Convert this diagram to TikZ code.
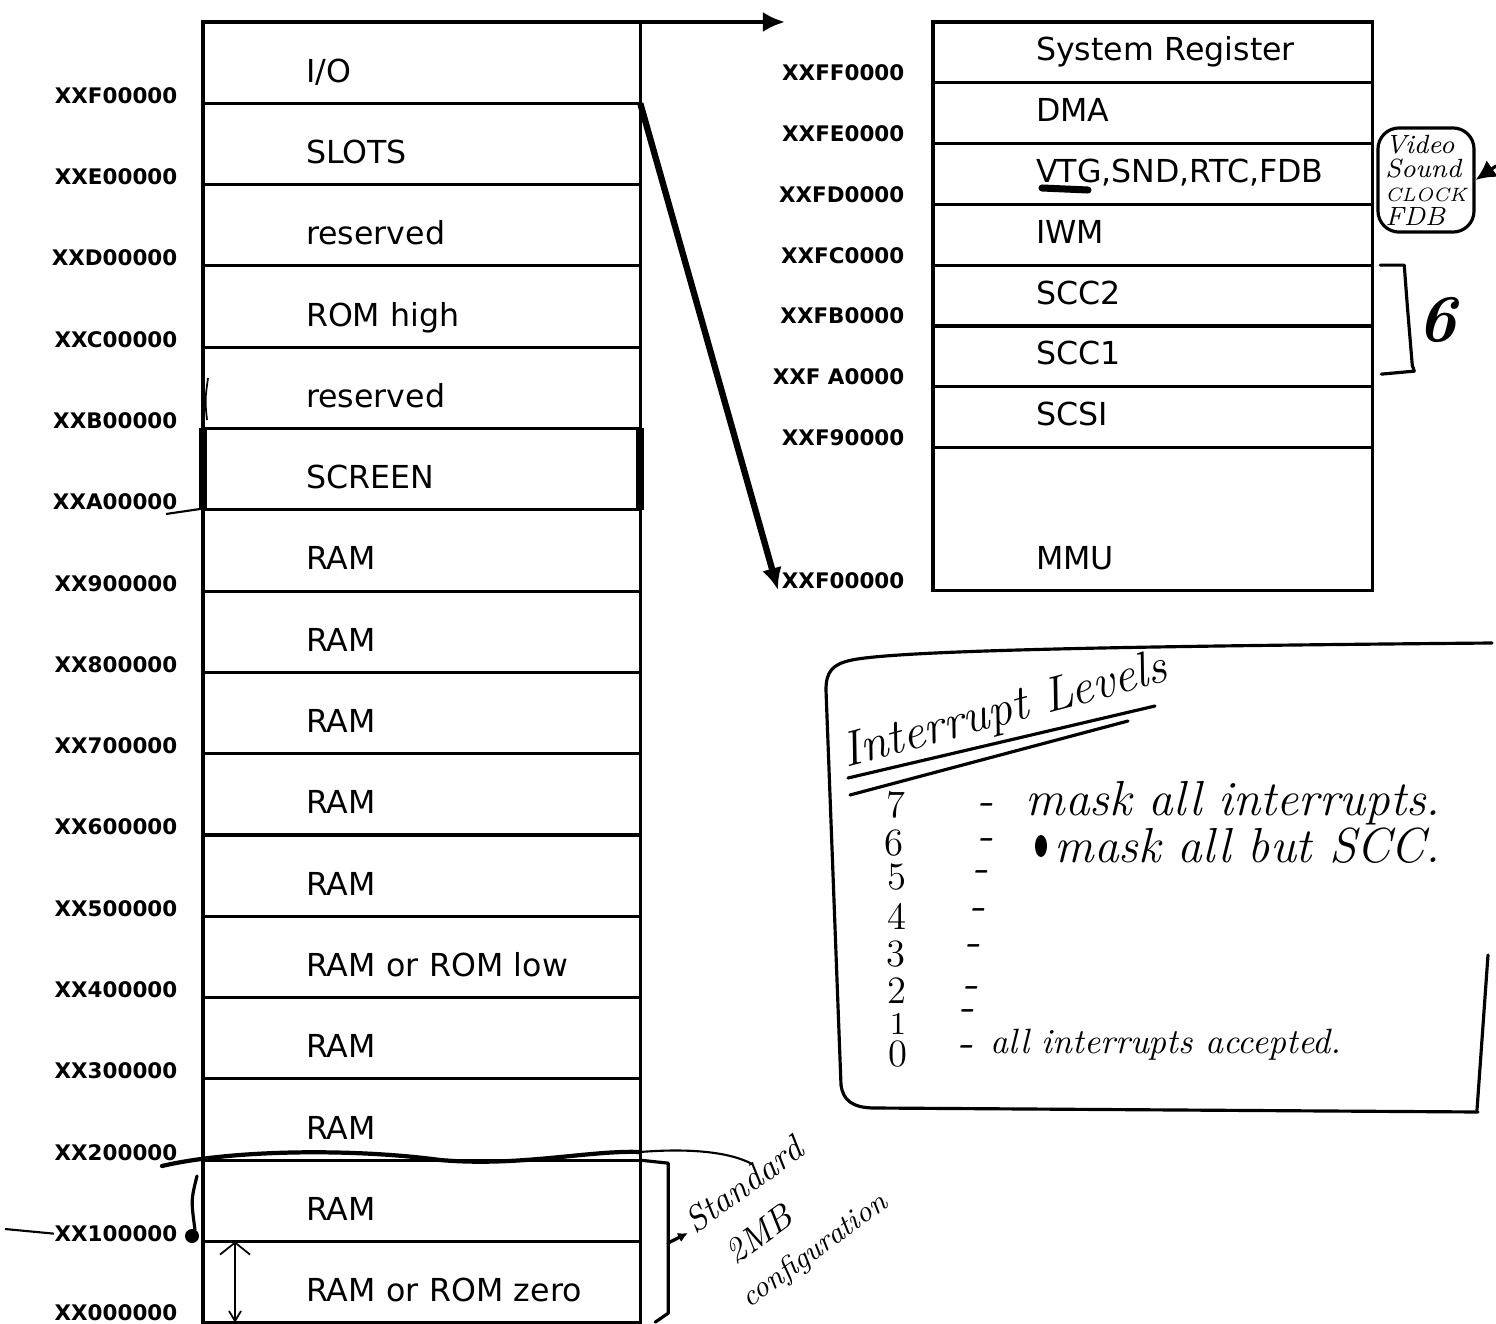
\documentclass[tikz,border=0pt]{standalone}
\usepackage{fontspec}
\newfontfamily\typefont{DejaVu Sans}
\usetikzlibrary{arrows.meta,positioning,calc}

\begin{document}
\begin{tikzpicture}[x=0.01cm,y=-0.01cm,
  cell/.style={rectangle,draw,line width=0.9pt,outer sep=0pt,inner xsep=0pt,
               align=left,text depth=0pt,
               font=\typefont\fontsize{9}{11}\selectfont,
               execute at begin node=\hspace*{1.03cm}},
  lcell/.style={cell,text width=4.37cm,minimum height=0.8125cm,text height=0.39cm},
  rcell/.style={cell,text width=4.39cm,minimum height=0.6075cm,text height=0.17cm},
  adresse/.style={anchor=base east,inner sep=0pt,
                  font=\typefont\bfseries\fontsize{6.1}{7}\selectfont},
  main/.style={inner sep=0pt,font=\itshape\fontsize{14}{16}\selectfont},
  chiffre/.style={inner sep=0pt,font=\fontsize{11}{12}\selectfont},
  trait/.style={line width=0.9pt,line cap=round,line join=round},
  fleche/.style={-{Latex[length=0.22cm,width=0.2cm]},line width=1.2pt}]

  \useasboundingbox (0,0) rectangle (1496,1324);

  % --- main memory map
  \node[lcell,anchor=north west] (io) at (203,22) {I/O};
  \node[lcell,below=0pt of io] (slots) {SLOTS};
  \node[lcell,below=0pt of slots] (resA) {reserved};
  \node[lcell,below=0pt of resA] (romhi) {ROM high};
  \node[lcell,below=0pt of romhi] (resB) {reserved};
  \node[lcell,below=0pt of resB] (screen) {SCREEN};
  \node[lcell,below=0pt of screen] (ram9) {RAM};
  \node[lcell,below=0pt of ram9] (ram8) {RAM};
  \node[lcell,below=0pt of ram8] (ram7) {RAM};
  \node[lcell,below=0pt of ram7] (ram6) {RAM};
  \node[lcell,below=0pt of ram6] (ram5) {RAM};
  \node[lcell,below=0pt of ram5] (romlo) {RAM or ROM low};
  \node[lcell,below=0pt of romlo] (ram3) {RAM};
  \node[lcell,below=0pt of ram3] (ram2) {RAM};
  \node[lcell,below=0pt of ram2] (ram1) {RAM};
  \node[lcell,below=0pt of ram1] (romzero) {RAM or ROM zero};

  \node[adresse] (aF) at ([xshift=-0.25cm]io.south west) {XXF00000};
  \node[adresse] (aE) at ([xshift=-0.25cm]slots.south west) {XXE00000};
  \node[adresse] (aD) at ([xshift=-0.25cm]resA.south west) {XXD00000};
  \node[adresse] (aC) at ([xshift=-0.25cm]romhi.south west) {XXC00000};
  \node[adresse] (aB) at ([xshift=-0.25cm]resB.south west) {XXB00000};
  \node[adresse] (aA) at ([xshift=-0.25cm]screen.south west) {XXA00000};
  \node[adresse] (a9) at ([xshift=-0.25cm]ram9.south west) {XX900000};
  \node[adresse] (a8) at ([xshift=-0.25cm]ram8.south west) {XX800000};
  \node[adresse] (a7) at ([xshift=-0.25cm]ram7.south west) {XX700000};
  \node[adresse] (a6) at ([xshift=-0.25cm]ram6.south west) {XX600000};
  \node[adresse] (a5) at ([xshift=-0.25cm]ram5.south west) {XX500000};
  \node[adresse] (a4) at ([xshift=-0.25cm]romlo.south west) {XX400000};
  \node[adresse] (a3) at ([xshift=-0.25cm]ram3.south west) {XX300000};
  \node[adresse] (a2) at ([xshift=-0.25cm]ram2.south west) {XX200000};
  \node[adresse] (a1) at ([xshift=-0.25cm]ram1.south west) {XX100000};
  \node[adresse] (a0) at ([xshift=-0.25cm,yshift=0.02cm]romzero.south west) {XX000000};

  \draw[line width=2.2pt] (screen.north west) -- (screen.south west);
  \draw[line width=2.2pt] (screen.north east) -- (screen.south east);

  % --- I/O space
  \node[rcell,anchor=north west] (sysreg) at (933,22) {System Register};
  \node[rcell,below=0pt of sysreg] (dma) {DMA};
  \node[rcell,below=0pt of dma] (vtg) {VTG,SND,RTC,FDB};
  \node[rcell,below=0pt of vtg] (iwm) {IWM};
  \node[rcell,below=0pt of iwm] (scc2) {SCC2};
  \node[rcell,below=0pt of scc2] (scc1) {SCC1};
  \node[rcell,below=0pt of scc1] (scsi) {SCSI};
  \node[rcell,below=0pt of scsi,minimum height=1.43cm,text height=1.0cm] (mmu) {MMU};

  \node[adresse] (rFF) at ([xshift=-0.28cm,yshift=0.02cm]sysreg.south west) {XXFF0000};
  \node[adresse] (rFE) at ([xshift=-0.28cm,yshift=0.02cm]dma.south west) {XXFE0000};
  \node[adresse] (rFD) at ([xshift=-0.28cm,yshift=0.02cm]vtg.south west) {XXFD0000};
  \node[adresse] (rFC) at ([xshift=-0.28cm,yshift=0.02cm]iwm.south west) {XXFC0000};
  \node[adresse] (rFB) at ([xshift=-0.28cm,yshift=0.02cm]scc2.south west) {XXFB0000};
  \node[adresse] (rFA) at ([xshift=-0.28cm,yshift=0.02cm]scc1.south west) {XXF A0000};
  \node[adresse] (rF9) at ([xshift=-0.28cm,yshift=0.02cm]scsi.south west) {XXF90000};
  \node[adresse] (rF0) at ([xshift=-0.28cm,yshift=0.02cm]mmu.south west) {XXF00000};

  \coordinate (finIO) at (785,22);
  \coordinate (finMMU) at (778,590);
  \draw[fleche] (io.north east) -- (finIO);
  \draw[fleche,line width=1.8pt] (io.south east) -- (finMMU);

  \draw[line width=2pt,line cap=round] (1042,188) -- (1088,190);

  % --- notes
  \node[draw,trait,rounded corners=6pt,minimum width=0.96cm,minimum height=0.91cm,
        inner sep=2pt,align=left,font=\itshape\fontsize{7.5}{6.8}\selectfont]
        (video) at (1426,180) {Video\\Sound\\{\fontsize{5.5}{6}\selectfont CLOCK}\\FDB};
  \coordinate (flecheV) at (1496,166);
  \draw[trait,-{Latex[length=0.2cm,width=0.2cm]}] (flecheV) -- (video.east);

  \draw[trait] ([xshift=0.08cm]scc2.north east) -- ++(24,0) -- ++(3,40)
    -- ++(5,60) -- ++(2,6) -- ++(-33,3);
  \node[main,font=\bfseries\itshape\fontsize{19}{19}\selectfont] (six) at (1437,320) {6};

  % --- interrupt levels
  \draw[trait] (1492,643) .. controls (1150,646) and (900,650) .. (852,660)
    .. controls (832,664) and (826,672) .. (826,690) -- (841,1085)
    .. controls (843,1100) and (852,1108) .. (875,1108) -- (1478,1112);
  \draw[trait] (1488,955) -- (1477,1110);
  \node[main,rotate=15] (titre) at (1005,712) {Interrupt Levels};
  \draw[trait] (848,778) -- (1155,706);
  \draw[trait] (850,795) -- (1128,721);

  \node[chiffre] (n7) at (896,805) {7};
  \node[chiffre] (n6) at (894,843) {6};
  \node[chiffre] (n5) at (897,877) {5};
  \node[chiffre] (n4) at (897,916) {4};
  \node[chiffre] (n3) at (896,954) {3};
  \node[chiffre] (n2) at (897,991) {2};
  \node[chiffre,font=\fontsize{9}{10}\selectfont] (n1) at (898,1024) {1};
  \node[chiffre] (n0) at (898,1054) {0};
  \node[main] (d7) at (985,810) {-};
  \node[main] (d6) at (985,845) {-};
  \node[main] (d5) at (980,877) {-};
  \node[main] (d4) at (977,915) {-};
  \node[main] (d3) at (972,951) {-};
  \node[main] (d2) at (970,993) {-};
  \node[main] (d1) at (966,1016) {-};
  \node[main] (d0) at (965,1052) {-};
  \node[main,anchor=west] (t7) at (1025,803) {mask all interrupts.};
  \fill (1041,846) ellipse (0.06cm and 0.11cm);
  \node[main,anchor=west] (t6) at (1054,846) {mask all but SCC.};
  \node[main,anchor=west,font=\itshape\fontsize{10}{12}\selectfont] (t0) at (990,1045)
    {all interrupts accepted.};

  % --- standard 2MB
  \draw[trait,line width=1.2pt] (162,1166) .. controls (230,1150) and (350,1148) .. (440,1160)
    .. controls (520,1167) and (590,1150) .. (640,1152);
  \draw[line width=0.6pt] (640,1152) .. controls (690,1148) and (730,1152) .. (752,1164);
  \draw[trait] (ram1.north east) -- ++(28,3) -- ++(0,150) -- ++(-13,9);
  \node[inner sep=0pt,rotate=36,anchor=north west,align=left,
        font=\itshape\fontsize{10}{11}\selectfont] (std) at (680,1214)
        {Standard\\[3pt]\hspace*{4pt}2MB\\[1pt]{\fontsize{8.5}{9}\selectfont configuration}};
  \coordinate (pied) at (668,1243);
  \coordinate (etoile) at (688,1233);
  \draw[trait,-{Latex[length=0.1cm,width=0.1cm]}] (pied) -- (etoile);

  \draw[trait] (197,1176) .. controls (191,1200) .. (195,1230);
  \fill (192,1236) circle (0.07cm);
  \coordinate (bord) at (5,1229);
  \draw[line width=0.6pt] (bord) -- (a1.west);
  \draw[line width=0.5pt,{Straight Barb[length=0.12cm,width=0.3cm]}-{Straight Barb[length=0.1cm,width=0.12cm]}]
    ([xshift=0.32cm]romzero.north west) -- ([xshift=0.32cm]romzero.south west);
  \draw[line width=0.5pt] (208,378) .. controls (205,400) .. (207,420);
  \draw[line width=0.6pt] (166,514) -- (200,509);
\end{tikzpicture}
\end{document}
